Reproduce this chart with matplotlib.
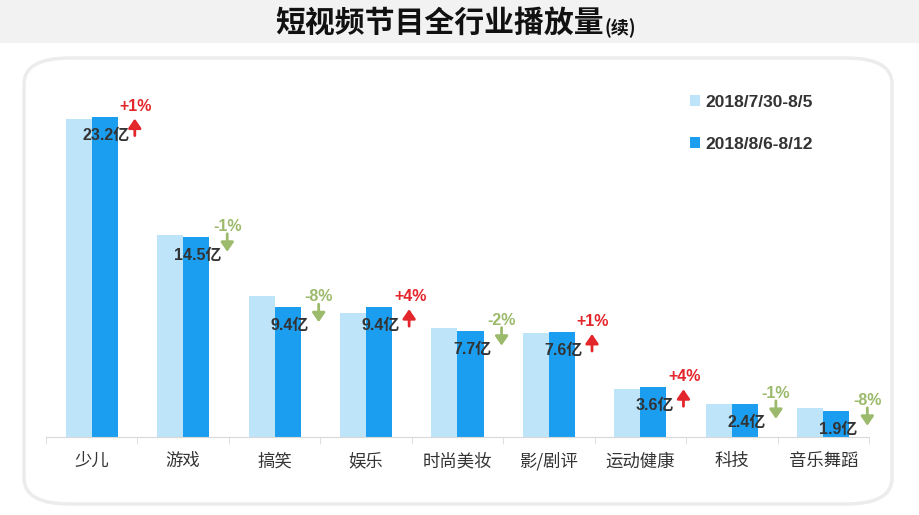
import matplotlib
matplotlib.use("Agg")
import matplotlib.pyplot as plt
import matplotlib.transforms as mtransforms
from matplotlib.patches import FancyBboxPatch, Rectangle
import numpy as np

plt.rcParams['font.family'] = ['Noto Sans CJK SC', 'DejaVu Sans']
latin = ['Liberation Sans', 'Noto Sans CJK SC', 'DejaVu Sans']

# data
categories = ["少儿", "游戏", "搞笑", "娱乐", "时尚美妆", "影/剧评", "运动健康", "科技", "音乐舞蹈"]
prev_week = [23.0, 14.6, 10.2, 9.0, 7.9, 7.5, 3.5, 2.4, 2.1]
this_week = [23.2, 14.5, 9.4, 9.4, 7.7, 7.6, 3.6, 2.4, 1.9]
value_labels = ["23.2亿", "14.5亿", "9.4亿", "9.4亿", "7.7亿", "7.6亿", "3.6亿", "2.4亿", "1.9亿"]
changes = ["+1%", "-1%", "-8%", "+4%", "-2%", "+1%", "+4%", "-1%", "-8%"]
series_names = ["2018/7/30-8/5", "2018/8/6-8/12"]

light = "#bde4f8"
dark = "#1b9ef0"
red = "#e3262b"
green = "#9cba6c"

W, H = 919, 515
fig = plt.figure(figsize=(W / 100, H / 100), dpi=100)
fig.patch.set_facecolor("white")

# grey title band and rounded panel
fig.patches.append(Rectangle((0, 1 - 43 / H), 1, 43 / H, transform=fig.transFigure,
                             facecolor="#f2f2f2", edgecolor="none", zorder=-2))
fig.patches.append(FancyBboxPatch((24 / W, 11 / H), 868 / W, 446 / H,
                                  boxstyle="round,pad=0,rounding_size=0.05",
                                  transform=fig.transFigure, facecolor="white",
                                  edgecolor="#ececec", linewidth=2.5, zorder=-1))

fig.text(604 / W, 1 - 23 / H, "短视频节目全行业播放量", ha="right", va="center",
         fontsize=21.5, fontweight="bold", color="#111111")
fig.text(605 / W, 1 - 28 / H, "(续)", ha="left", va="center",
         fontsize=13, fontweight="bold", color="#111111")

ax = fig.add_axes([46 / W, 78 / H, 823 / W, (437 - 60) / H])
ax.set_facecolor("none")
x = np.arange(len(categories))
bw = 0.285
b1 = ax.bar(x - bw / 2, prev_week, bw, color=light, label=series_names[0], zorder=2)
b2 = ax.bar(x + bw / 2, this_week, bw, color=dark, label=series_names[1], zorder=2)

ax.set_xlim(-0.5, len(categories) - 0.5)
ax.set_ylim(0, 27.3)
ax.set_yticks([])
for s in ["top", "right", "left"]:
    ax.spines[s].set_visible(False)
ax.spines["bottom"].set_color("#d9d9d9")
ax.set_xticks(x)
ax.set_xticklabels(categories, fontsize=12.5, color="#333333")
ax.tick_params(axis="x", which="major", length=0, pad=11)
ax.set_xticks(np.arange(-0.5, len(categories), 1), minor=True)
ax.tick_params(axis="x", which="minor", length=5, color="#d9d9d9")

arrow_style = "-|>,head_width=0.38,head_length=0.55"
for i, v in enumerate(this_week):
    xr = i + bw
    ax.annotate(value_labels[i], xy=(i + bw / 2 + 0.02, v), xytext=(0, -11),
                textcoords="offset pixels", ha="center", va="top",
                fontsize=11.5, fontweight="bold", color="#333333", zorder=3,
                family=latin)
    up = changes[i].startswith("+")
    col = red if up else green
    ax.annotate(changes[i], xy=(xr, v), xytext=(18, 3),
                textcoords="offset pixels", ha="center", va="bottom",
                fontsize=11.5, fontweight="bold", color=col, zorder=3,
                family=latin)
    if up:
        tip_tr = mtransforms.offset_copy(ax.transData, fig=fig, x=17, y=-2, units="dots")
        ax.annotate("", xy=(xr, v), xycoords=tip_tr, xytext=(0, -17),
                    textcoords="offset pixels",
                    arrowprops=dict(arrowstyle=arrow_style,
                                    color=col, lw=2, shrinkA=0, shrinkB=0))
    else:
        tip_tr = mtransforms.offset_copy(ax.transData, fig=fig, x=18, y=-15, units="dots")
        ax.annotate("", xy=(xr, v), xycoords=tip_tr, xytext=(0, 18),
                    textcoords="offset pixels",
                    arrowprops=dict(arrowstyle=arrow_style,
                                    color=col, lw=2, shrinkA=0, shrinkB=0))

leg = ax.legend(handles=[b1, b2], loc="upper left",
                bbox_to_anchor=(690 / W, 1 - 95 / H), bbox_transform=fig.transFigure,
                frameon=False, handlelength=0.6, handleheight=0.6, handletextpad=0.3,
                labelspacing=1.55, borderpad=0, borderaxespad=0,
                prop=dict(size=12.5, weight="bold", family=latin))
for t in leg.get_texts():
    t.set_color("#333333")

fig.savefig("out.png", dpi=100, facecolor=fig.get_facecolor())
